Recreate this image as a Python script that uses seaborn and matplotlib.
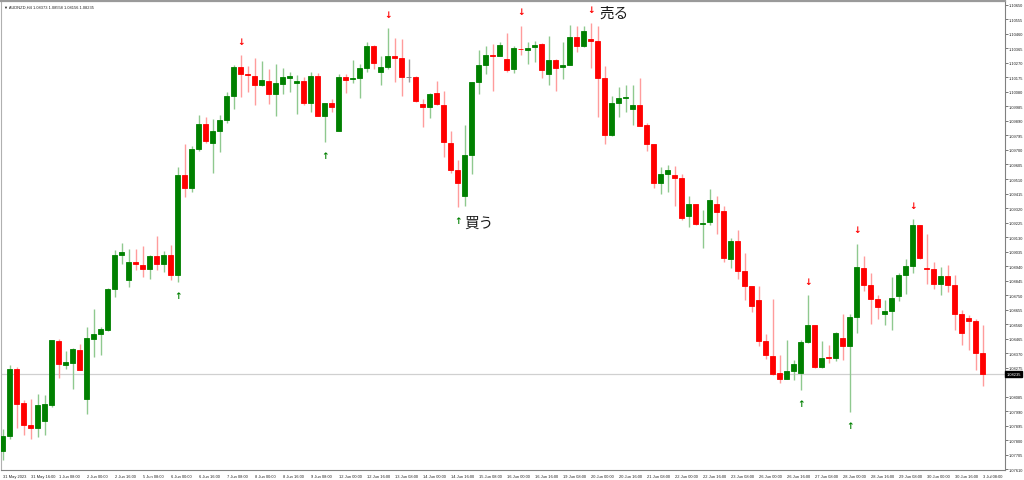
import numpy as np
import pandas as pd
import seaborn as sns
import matplotlib.pyplot as plt
import matplotlib.transforms as mtransforms

# AUDNZD H4 candles, 31 May 2023 00:00 -> 3 Jul 2023 08:00
symbol = "AUDNZD,H4"
opens = [
    1.07731, 1.07829, 1.08265, 1.08045, 1.07899, 1.07881, 1.07927, 1.08034, 1.08450, 1.08291,
    1.08308, 1.08393, 1.08073, 1.08465, 1.08494, 1.08520, 1.08792, 1.09014, 1.08847, 1.08967,
    1.08949, 1.08923, 1.09006, 1.08956, 1.09010, 1.08879, 1.09537, 1.09450, 1.09707, 1.09871,
    1.09747, 1.09823, 1.09899, 1.10050, 1.10241, 1.10198, 1.10182, 1.10128, 1.10154, 1.10067,
    1.10132, 1.10174, 1.10137, 1.10152, 1.10006, 1.10187, 1.09925, 1.10008, 1.09821, 1.10180,
    1.10165, 1.10172, 1.10237, 1.10383, 1.10209, 1.10241, 1.10318, 1.10300, 1.10178, 1.10176,
    1.10004, 1.09984, 1.10071, 1.09997, 1.09747, 1.09566, 1.09402, 1.09664, 1.10143, 1.10259,
    1.10320, 1.10318, 1.10296, 1.10230, 1.10363, 1.10355, 1.10372, 1.10392, 1.10198, 1.10291,
    1.10241, 1.10259, 1.10442, 1.10383, 1.10424, 1.10411, 1.10169, 1.09795, 1.10006, 1.10041,
    1.09965, 1.09997, 1.09866, 1.09736, 1.09485, 1.09540, 1.09533, 1.09518, 1.09265, 1.09348,
    1.09213, 1.09228, 1.09344, 1.09298, 1.08988, 1.09104, 1.08908, 1.08810, 1.08716, 1.08448,
    1.08352, 1.08241, 1.08204, 1.08252, 1.08243, 1.08444, 1.08553, 1.08280, 1.08343, 1.08339,
    1.08470, 1.08415, 1.08607, 1.08927, 1.08814, 1.08727, 1.08625, 1.08644, 1.08742, 1.08879,
    1.08938, 1.09206, 1.08930, 1.08923, 1.08821, 1.08873, 1.08818, 1.08629, 1.08603, 1.08579,
    1.08373,
]
highs = [
    1.07877, 1.08291, 1.08280, 1.08062, 1.08073, 1.08106, 1.08099, 1.08456, 1.08465, 1.08383,
    1.08404, 1.08433, 1.08542, 1.08661, 1.08542, 1.08797, 1.09043, 1.09093, 1.09054, 1.09054,
    1.09071, 1.09014, 1.09134, 1.09036, 1.09075, 1.09588, 1.09736, 1.09729, 1.09930, 1.09914,
    1.09904, 1.09930, 1.10078, 1.10257, 1.10322, 1.10252, 1.10300, 1.10285, 1.10230, 1.10263,
    1.10235, 1.10213, 1.10191, 1.10176, 1.10213, 1.10204, 1.10008, 1.10034, 1.10196, 1.10198,
    1.10291, 1.10263, 1.10409, 1.10387, 1.10313, 1.10496, 1.10431, 1.10427, 1.10296, 1.10182,
    1.10034, 1.10074, 1.10154, 1.10089, 1.09821, 1.09635, 1.09864, 1.10148, 1.10357, 1.10379,
    1.10394, 1.10405, 1.10466, 1.10383, 1.10514, 1.10409, 1.10416, 1.10400, 1.10444, 1.10296,
    1.10405, 1.10518, 1.10514, 1.10514, 1.10531, 1.10509, 1.10252, 1.10056, 1.10111, 1.10126,
    1.10126, 1.10169, 1.09875, 1.09740, 1.09588, 1.09599, 1.09594, 1.09544, 1.09402, 1.09348,
    1.09304, 1.09446, 1.09402, 1.09333, 1.09126, 1.09174, 1.09028, 1.08810, 1.08810, 1.08498,
    1.08727, 1.08361, 1.08454, 1.08324, 1.08454, 1.08749, 1.08557, 1.08448, 1.08426, 1.08509,
    1.08629, 1.08629, 1.09086, 1.09004, 1.08897, 1.08749, 1.08716, 1.08868, 1.08897, 1.08988,
    1.09246, 1.09211, 1.09152, 1.08967, 1.08934, 1.08945, 1.08879, 1.08655, 1.08622, 1.08596,
    1.08558,
]
lows = [
    1.07670, 1.07807, 1.07881, 1.07833, 1.07807, 1.07823, 1.07838, 1.08019, 1.08210, 1.08269,
    1.08134, 1.08258, 1.07975, 1.08346, 1.08356, 1.08513, 1.08738, 1.08956, 1.08803, 1.08912,
    1.08868, 1.08858, 1.08912, 1.08901, 1.08847, 1.08836, 1.09391, 1.09424, 1.09690, 1.09747,
    1.09548, 1.09686, 1.09877, 1.09969, 1.10045, 1.10082, 1.09995, 1.10121, 1.10002, 1.09925,
    1.10067, 1.10082, 1.09936, 1.09991, 1.09947, 1.09921, 1.09751, 1.09947, 1.09821, 1.10071,
    1.10139, 1.10039, 1.10209, 1.10230, 1.10126, 1.10230, 1.10143, 1.10056, 1.10148, 1.10017,
    1.09849, 1.09908, 1.09995, 1.09653, 1.09551, 1.09326, 1.09333, 1.09544, 1.10063, 1.10198,
    1.10089, 1.10313, 1.10209, 1.10204, 1.10322, 1.10263, 1.10278, 1.10172, 1.10126, 1.10084,
    1.10165, 1.10257, 1.10339, 1.10376, 1.10235, 1.09914, 1.09736, 1.09790, 1.09914, 1.09947,
    1.09864, 1.09856, 1.09690, 1.09450, 1.09413, 1.09424, 1.09333, 1.09243, 1.09195, 1.09206,
    1.09058, 1.09206, 1.09152, 1.08967, 1.08927, 1.08858, 1.08716, 1.08640, 1.08417, 1.08335,
    1.08230, 1.08178, 1.08200, 1.08193, 1.08128, 1.08439, 1.08276, 1.08276, 1.08308, 1.08317,
    1.08324, 1.07986, 1.08505, 1.08775, 1.08559, 1.08592, 1.08557, 1.08524, 1.08712, 1.08755,
    1.08897, 1.08988, 1.08821, 1.08792, 1.08749, 1.08770, 1.08520, 1.08422, 1.08389, 1.08258,
    1.08156,
]
closes = [
    1.07829, 1.08265, 1.08040, 1.07899, 1.07884, 1.08034, 1.08036, 1.08454, 1.08298, 1.08313,
    1.08396, 1.08263, 1.08470, 1.08498, 1.08526, 1.08792, 1.09014, 1.09032, 1.08967, 1.08951,
    1.08923, 1.09006, 1.08956, 1.09010, 1.08879, 1.09537, 1.09450, 1.09707, 1.09871, 1.09758,
    1.09823, 1.09899, 1.10052, 1.10243, 1.10198, 1.10191, 1.10128, 1.10158, 1.10067, 1.10139,
    1.10176, 1.10185, 1.10152, 1.10006, 1.10187, 1.09925, 1.10008, 1.09978, 1.10180, 1.10161,
    1.10174, 1.10235, 1.10383, 1.10270, 1.10246, 1.10318, 1.10305, 1.10176, 1.10178, 1.10019,
    1.09984, 1.10067, 1.10002, 1.09751, 1.09570, 1.09483, 1.09668, 1.10143, 1.10259, 1.10322,
    1.10315, 1.10387, 1.10226, 1.10366, 1.10359, 1.10368, 1.10390, 1.10220, 1.10291, 1.10237,
    1.10259, 1.10442, 1.10383, 1.10477, 1.10413, 1.10172, 1.09795, 1.10006, 1.10041, 1.10045,
    1.09997, 1.09860, 1.09736, 1.09485, 1.09540, 1.09570, 1.09518, 1.09256, 1.09348, 1.09217,
    1.09221, 1.09374, 1.09293, 1.08993, 1.09104, 1.08908, 1.08810, 1.08679, 1.08448, 1.08356,
    1.08232, 1.08200, 1.08252, 1.08302, 1.08444, 1.08553, 1.08280, 1.08341, 1.08337, 1.08505,
    1.08415, 1.08607, 1.08932, 1.08814, 1.08727, 1.08672, 1.08646, 1.08733, 1.08879, 1.08938,
    1.09206, 1.08995, 1.08923, 1.08821, 1.08873, 1.08818, 1.08625, 1.08505, 1.08579, 1.08374,
    1.08235,
]

buy_signals = [25, 46, 65, 114, 121]
sell_signals = [34, 55, 74, 84, 115, 122, 130]
buy_label = (65, "買う")
sell_label = (84, "売る")

time_labels = [
    "31 May 2023", "31 May 16:00", "1 Jun 08:00", "2 Jun 00:00", "2 Jun 16:00", "5 Jun 08:00",
    "6 Jun 00:00", "6 Jun 16:00", "7 Jun 08:00", "8 Jun 00:00", "8 Jun 16:00", "9 Jun 08:00",
    "12 Jun 00:00", "12 Jun 16:00", "13 Jun 08:00", "14 Jun 00:00", "14 Jun 16:00", "15 Jun 08:00",
    "16 Jun 00:00", "16 Jun 16:00", "19 Jun 08:00", "20 Jun 00:00", "20 Jun 16:00", "21 Jun 08:00",
    "22 Jun 00:00", "22 Jun 16:00", "23 Jun 08:00", "26 Jun 00:00", "26 Jun 16:00", "27 Jun 08:00",
    "28 Jun 00:00", "28 Jun 16:00", "29 Jun 08:00", "30 Jun 00:00", "30 Jun 16:00", "3 Jul 08:00",
]
price_ticks = [
    1.07610, 1.07705, 1.07800, 1.07895, 1.07990, 1.08085, 1.08275, 1.08370, 1.08465,
    1.08560, 1.08655, 1.08750, 1.08845, 1.08940, 1.09035, 1.09130, 1.09225, 1.09320, 1.09415,
    1.09510, 1.09605, 1.09700, 1.09795, 1.09890, 1.09985, 1.10080, 1.10175, 1.10270, 1.10365,
    1.10460, 1.10555, 1.10650,
]

df = pd.DataFrame({"open": opens, "high": highs, "low": lows, "close": closes})
df["bar"] = np.arange(len(df))
df["dir"] = np.sign(df["close"] - df["open"])

sns.set_style("white")
plt.rcParams['font.family'] = ['Liberation Sans', 'DejaVu Sans']

BODY = {1: "#008000", -1: "#ff0000", 0: "#808080"}
WICK = {1: "#8fc98f", -1: "#ff9c9c", 0: "#9a9a9a"}
TICK_FS = 2.9

fig = plt.figure(figsize=(10.24, 4.81), dpi=100)
ax = fig.add_axes([1.3 / 1024, 1 - 471 / 481, (1005 - 1.3) / 1024, (471 - 1.5) / 481])

# current price line
ax.axhline(closes[-1], color="#d0d0d0", lw=0.9, zorder=1)

for d in (1, -1, 0):
    sub = df[df["dir"] == d]
    ax.vlines(sub["bar"], sub["low"], sub["high"], color=WICK[d], lw=1.0, zorder=2)
    lo = sub[["open", "close"]].min(axis=1)
    hi = sub[["open", "close"]].max(axis=1)
    ax.bar(sub["bar"], hi - lo, bottom=lo, width=0.68, color=BODY[d],
           edgecolor=BODY[d], linewidth=0.6, zorder=3)

# signal arrows
for i in sell_signals:
    ax.annotate("↓", xy=(i, highs[i]), xytext=(0, 10), textcoords="offset points",
                ha="center", va="center", color="#ff0000", fontsize=6.5,
                fontweight="bold", family="DejaVu Sans", zorder=4)
for i in buy_signals:
    ax.annotate("↑", xy=(i, lows[i]), xytext=(0, -9.5), textcoords="offset points",
                ha="center", va="center", color="#008000", fontsize=6.5,
                fontweight="bold", family="DejaVu Sans", zorder=4)

ax.annotate(sell_label[1], xy=(sell_label[0], highs[sell_label[0]]), xytext=(6.5, 7.5),
            textcoords="offset points", ha="left", va="center", fontsize=10.5,
            color="#1a1a1a", family=["Noto Sans CJK JP", "DejaVu Sans"])
ax.annotate(buy_label[1], xy=(buy_label[0], lows[buy_label[0]]), xytext=(5, -11),
            textcoords="offset points", ha="left", va="center", fontsize=10.5,
            color="#1a1a1a", family=["Noto Sans CJK JP", "DejaVu Sans"])

# header
ax.text(0.003, 0.992, "▼ " + symbol + " " + " ".join(f"{v:.5f}" for v in
        (opens[-1], highs[-1], lows[-1], closes[-1])),
        transform=ax.transAxes, ha="left", va="top", fontsize=TICK_FS, color="#222222")

ax.set_xlim(-0.2, 143.19)
ax.set_ylim(1.07606, 1.10678)

# axes
ax.yaxis.tick_right()
ax.set_yticks(price_ticks)
ax.set_yticklabels([f"{v:.5f}" for v in price_ticks])
ax.set_xticks(np.arange(0, 4 * len(time_labels), 4))
ax.set_xticklabels(time_labels, ha="left")
ax.tick_params(axis="both", length=2, width=0.6, color="#606060", labelsize=TICK_FS,
               labelcolor="#222222", pad=1.0)
offset = mtransforms.ScaledTranslation(0.4 / 72, 0, fig.dpi_scale_trans)
for lbl in ax.get_xticklabels():
    lbl.set_transform(lbl.get_transform() + offset)

for side in ("left", "bottom", "right"):
    ax.spines[side].set_color("#808080")
    ax.spines[side].set_linewidth(0.8)
ax.spines["left"].set_color("#b0b0b0")
ax.spines["top"].set_color("#9a9a9a")
ax.spines["top"].set_linewidth(1.6)
ax.set_xlabel("")
ax.set_ylabel("")

# current price tag on the right scale
ax.annotate(f"{closes[-1]:.5f}", xy=(1, closes[-1]), xycoords=("axes fraction", "data"),
            xytext=(1.0, 0), textcoords="offset points", ha="left", va="center",
            fontsize=TICK_FS, color="white",
            bbox=dict(boxstyle="square,pad=0.25", fc="black", ec="black"))

fig.savefig("out.png", dpi=100)
